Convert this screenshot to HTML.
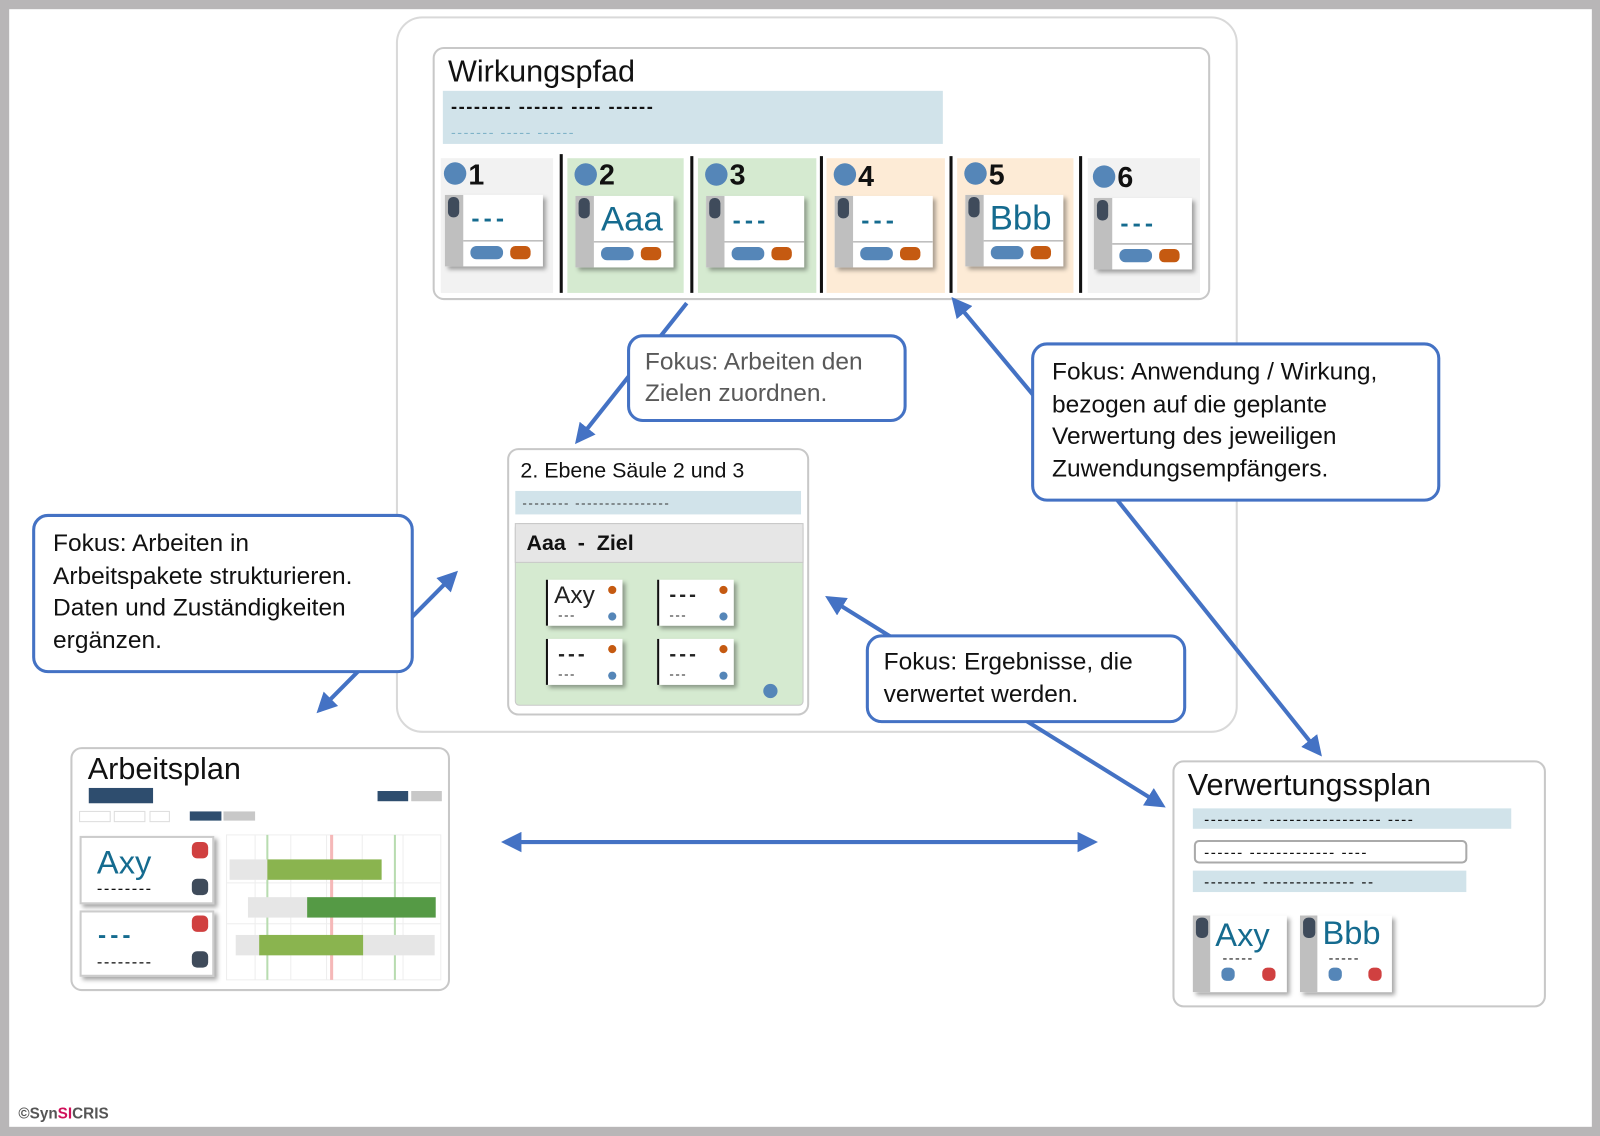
<!DOCTYPE html>
<html><head><meta charset="utf-8"><style>
html,body{margin:0;padding:0;background:#b8b6b7;}
svg{display:block;}
text{font-family:"Liberation Sans",sans-serif;}
.d{letter-spacing:1.5px;}
</style></head><body>
<svg width="1600" height="1136" viewBox="0 0 1568 1113" preserveAspectRatio="none" xmlns="http://www.w3.org/2000/svg">
<defs>
<marker id="ah" markerWidth="5" markerHeight="5" refX="4" refY="2.5" orient="auto-start-reverse" markerUnits="strokeWidth">
<path d="M0,0 L5,2.5 L0,5 Z" fill="#4472c4"/></marker>
<filter id="sh" x="-20%" y="-20%" width="150%" height="150%"><feDropShadow dx="3" dy="3" stdDeviation="2" flood-color="#000" flood-opacity="0.35"/></filter>
<g id="col">
<circle cx="446" cy="170" r="11" fill="#5586b8"/>
<rect x="436" y="191" width="96" height="70" fill="#fff" filter="url(#sh)"/>
<rect x="436" y="191" width="18" height="70" fill="#bfbfbf"/>
<rect x="439" y="193" width="11" height="20" rx="5" fill="#3f4b5b"/>
<line x1="454" y1="236" x2="532" y2="236" stroke="#999" stroke-width="1"/>
<rect x="461" y="241" width="32" height="13" rx="6" fill="#5586b8"/>
<rect x="500" y="241" width="20" height="13" rx="5" fill="#c55a11"/>
</g>
<g id="sc">
<rect x="0" y="0" width="75" height="45" fill="#fff" filter="url(#sh)"/>
<line x1="1" y1="0" x2="1" y2="45" stroke="#111" stroke-width="2"/>
<circle cx="65" cy="10" r="4" fill="#c55a11"/>
<circle cx="65" cy="36" r="4" fill="#5586b8"/>
<text x="12" y="39" font-size="13" fill="#222" class="d">---</text>
</g>
</defs>
<rect x="9" y="9" width="1551" height="1095" fill="#fff"/>

<rect x="389" y="17" width="823" height="700" rx="25" fill="#fff" stroke="#d9d9d9" stroke-width="2"/>

<rect x="425" y="47" width="760" height="246" rx="10" fill="#fff" stroke="#c8c8c8" stroke-width="2"/>
<text x="439" y="80" font-size="30" fill="#111">Wirkungspfad</text>
<rect x="434" y="89" width="490" height="52" fill="#d1e3ea"/>
<text x="442" y="110" font-size="18" font-weight="bold" fill="#111" class="d">-------- ------ ---- ------</text>
<text x="442" y="134" font-size="14" fill="#7fb3c8" class="d">------- ----- ------</text>
<rect x="432" y="155" width="110" height="132" fill="#f2f2f2"/>
<rect x="556" y="155" width="114" height="132" fill="#d5ead0"/>
<rect x="684" y="155" width="116" height="132" fill="#d5ead0"/>
<rect x="810" y="155" width="116" height="132" fill="#fdebd6"/>
<rect x="938" y="155" width="114" height="132" fill="#fdebd6"/>
<rect x="1066" y="155" width="110" height="132" fill="#f2f2f2"/>
<g stroke="#111" stroke-width="3">
<line x1="550" y1="151" x2="550" y2="287"/><line x1="678" y1="153" x2="678" y2="287"/>
<line x1="805" y1="153" x2="805" y2="287"/><line x1="932" y1="153" x2="932" y2="287"/>
<line x1="1059" y1="153" x2="1059" y2="287"/>
</g>
<use href="#col"/>
<use href="#col" transform="translate(128,1)"/>
<use href="#col" transform="translate(256,1)"/>
<use href="#col" transform="translate(382,1)"/>
<use href="#col" transform="translate(510,0)"/>
<use href="#col" transform="translate(636,3)"/>
<g font-size="28" font-weight="bold" fill="#111">
<text x="459" y="181">1</text><text x="587" y="181">2</text><text x="715" y="181">3</text>
<text x="841" y="182">4</text><text x="969" y="181">5</text><text x="1095" y="183">6</text>
</g>
<g fill="#156b8f" font-weight="bold">
<text x="462" y="222" font-size="24" class="d" style="letter-spacing:4px">---</text>
<text x="589" y="226" font-size="34" font-weight="normal">Aaa</text>
<text x="718" y="224" font-size="24" style="letter-spacing:4px">---</text>
<text x="844" y="224" font-size="24" style="letter-spacing:4px">---</text>
<text x="970" y="225" font-size="34" font-weight="normal">Bbb</text>
<text x="1098" y="227" font-size="24" style="letter-spacing:4px">---</text>
</g>

<rect x="498" y="440" width="294" height="260" rx="10" fill="#fff" stroke="#c8c8c8" stroke-width="2"/>
<text x="510" y="468" font-size="21" fill="#111">2. Ebene Säule 2 und 3</text>
<rect x="505" y="481" width="280" height="23" fill="#d1e3ea"/>
<text x="512" y="497" font-size="13" fill="#333" class="d">-------- ----------------</text>
<rect x="505" y="513" width="282" height="178" rx="4" fill="#d5ead0" stroke="#c8c8c8"/>
<rect x="505" y="513" width="282" height="38" fill="#e6e6e6" stroke="#c8c8c8"/>
<text x="516" y="539" font-size="21" font-weight="bold" fill="#111" xml:space="preserve">Aaa  -  Ziel</text>
<use href="#sc" transform="translate(535,568)"/>
<use href="#sc" transform="translate(644,568)"/>
<use href="#sc" transform="translate(535,626)"/>
<use href="#sc" transform="translate(644,626)"/>
<text x="543" y="591" font-size="24" fill="#222">Axy</text>
<text x="656" y="589" font-size="20" font-weight="bold" fill="#222" style="letter-spacing:3px">---</text>
<text x="547" y="647" font-size="20" font-weight="bold" fill="#222" style="letter-spacing:3px">---</text>
<text x="656" y="647" font-size="20" font-weight="bold" fill="#222" style="letter-spacing:3px">---</text>
<circle cx="755" cy="677" r="7" fill="#5586b8"/>

<rect x="70" y="733" width="370" height="237" rx="10" fill="#fff" stroke="#c8c8c8" stroke-width="2"/>
<text x="86" y="763" font-size="30" fill="#111">Arbeitsplan</text>
<rect x="87" y="772" width="63" height="15" fill="#2e4d6e"/>
<rect x="370" y="775" width="30" height="10" fill="#2e4d6e"/><rect x="403" y="775" width="30" height="10" fill="#c8c8c8"/>
<g fill="#fff" stroke="#ddd"><rect x="78" y="795" width="30" height="10"/><rect x="112" y="795" width="30" height="10"/><rect x="147" y="795" width="19" height="10"/></g>
<rect x="186" y="795" width="31" height="9" fill="#2e4d6e"/><rect x="219" y="795" width="31" height="9" fill="#c8c8c8"/>
<g stroke="#eee" stroke-width="1">
<rect x="222" y="818" width="210" height="142" fill="#fff"/>
<line x1="250" y1="818" x2="250" y2="960"/><line x1="285" y1="818" x2="285" y2="960"/><line x1="320" y1="818" x2="320" y2="960"/><line x1="355" y1="818" x2="355" y2="960"/><line x1="395" y1="818" x2="395" y2="960"/>
<line x1="222" y1="865" x2="432" y2="865"/><line x1="222" y1="905" x2="432" y2="905"/>
</g>
<line x1="262" y1="818" x2="262" y2="960" stroke="#b8dcb0" stroke-width="2"/>
<line x1="325" y1="818" x2="325" y2="960" stroke="#f5b8b8" stroke-width="3"/>
<line x1="387" y1="818" x2="387" y2="960" stroke="#b8dcb0" stroke-width="2"/>
<rect x="225" y="842" width="38" height="20" fill="#e6e6e6"/><rect x="262" y="842" width="112" height="20" fill="#8ab44f"/>
<rect x="243" y="879" width="58" height="20" fill="#e6e6e6"/><rect x="301" y="879" width="126" height="20" fill="#559a45"/>
<rect x="231" y="916" width="24" height="20" fill="#e6e6e6"/><rect x="254" y="916" width="102" height="20" fill="#8ab44f"/><rect x="356" y="916" width="70" height="20" fill="#e6e6e6"/>
<rect x="79" y="820" width="130" height="65" fill="#fff" stroke="#ccc" stroke-width="2" filter="url(#sh)"/>
<rect x="79" y="893" width="130" height="63" fill="#fff" stroke="#ccc" stroke-width="2" filter="url(#sh)"/>
<text x="95" y="856" font-size="32" fill="#156b8f">Axy</text>
<text x="95" y="876" font-size="16" fill="#111" class="d">--------</text>
<text x="96" y="924" font-size="24" font-weight="bold" fill="#156b8f" style="letter-spacing:4px">---</text>
<text x="95" y="948" font-size="16" fill="#111" class="d">--------</text>
<rect x="188" y="825" width="16" height="16" rx="5" fill="#d04040"/><rect x="188" y="861" width="16" height="16" rx="5" fill="#3f4b5b"/>
<rect x="188" y="897" width="16" height="16" rx="5" fill="#d04040"/><rect x="188" y="932" width="16" height="16" rx="5" fill="#3f4b5b"/>

<rect x="1150" y="746" width="364" height="240" rx="10" fill="#fff" stroke="#c8c8c8" stroke-width="2"/>
<text x="1164" y="779" font-size="30" fill="#111">Verwertungssplan</text>
<rect x="1169" y="792" width="312" height="20" fill="#d1e3ea"/>
<text x="1180" y="808" font-size="15" fill="#111" class="d">--------- ----------------- ----</text>
<rect x="1171" y="824" width="266" height="21" rx="4" fill="#fff" stroke="#aaa" stroke-width="2"/>
<text x="1180" y="840" font-size="15" fill="#111" class="d">------ ------------- ----</text>
<rect x="1169" y="853" width="268" height="21" fill="#d1e3ea"/>
<text x="1180" y="869" font-size="15" fill="#111" class="d">-------- -------------- --</text>
<rect x="1169" y="897" width="92" height="75" fill="#fff" filter="url(#sh)"/>
<rect x="1169" y="897" width="17" height="75" fill="#bfbfbf"/><rect x="1172" y="899" width="12" height="20" rx="5" fill="#3f4b5b"/>
<rect x="1274" y="897" width="90" height="75" fill="#fff" filter="url(#sh)"/>
<rect x="1274" y="897" width="17" height="75" fill="#bfbfbf"/><rect x="1277" y="899" width="12" height="20" rx="5" fill="#3f4b5b"/>
<text x="1191" y="927" font-size="32" fill="#156b8f">Axy</text>
<text x="1296" y="925" font-size="32" fill="#156b8f">Bbb</text>
<text x="1198" y="943" font-size="14" fill="#111" class="d">-----</text>
<text x="1302" y="943" font-size="14" fill="#111" class="d">-----</text>
<rect x="1197" y="948" width="13" height="13" rx="5" fill="#5586b8"/><rect x="1237" y="948" width="13" height="13" rx="5" fill="#d04040"/>
<rect x="1302" y="948" width="13" height="13" rx="5" fill="#5586b8"/><rect x="1341" y="948" width="13" height="13" rx="5" fill="#d04040"/>

<g stroke="#4472c4" stroke-width="4" fill="none">
<line x1="673" y1="297" x2="566" y2="432" marker-end="url(#ah)"/>
<line x1="1015" y1="390" x2="935" y2="294" marker-end="url(#ah)"/>
<line x1="1095" y1="490" x2="1293" y2="738" marker-end="url(#ah)"/>
<line x1="313" y1="696" x2="446" y2="562" marker-start="url(#ah)" marker-end="url(#ah)"/>
<line x1="812" y1="586" x2="1139" y2="789" marker-start="url(#ah)" marker-end="url(#ah)"/>
<line x1="495" y1="825" x2="1072" y2="825" marker-start="url(#ah)" marker-end="url(#ah)"/>
</g>

<g fill="#fff" stroke="#4472c4" stroke-width="3">
<rect x="616" y="329" width="271" height="83" rx="14"/>
<rect x="1012" y="337" width="398" height="153" rx="14"/>
<rect x="33" y="505" width="371" height="153" rx="14"/>
<rect x="850" y="623" width="311" height="84" rx="14"/>
</g>
<g font-size="24" fill="#595959"><text x="632" y="362">Fokus: Arbeiten den</text><text x="632" y="393">Zielen zuordnen.</text></g>
<g font-size="24" fill="#111">
<text x="1031" y="372">Fokus: Anwendung / Wirkung,</text><text x="1031" y="404">bezogen auf die geplante</text>
<text x="1031" y="435">Verwertung des jeweiligen</text><text x="1031" y="467">Zuwendungsempfängers.</text>
<text x="52" y="540">Fokus: Arbeiten in</text><text x="52" y="572">Arbeitspakete strukturieren.</text>
<text x="52" y="603">Daten und Zuständigkeiten</text><text x="52" y="635">ergänzen.</text>
<text x="866" y="656">Fokus: Ergebnisse, die</text><text x="866" y="688">verwertet werden.</text>
</g>

<text x="18" y="1096" font-size="15" font-weight="bold" fill="#555">©Syn<tspan fill="#d0105a">SI</tspan>CRIS</text>
</svg>
</body></html>
